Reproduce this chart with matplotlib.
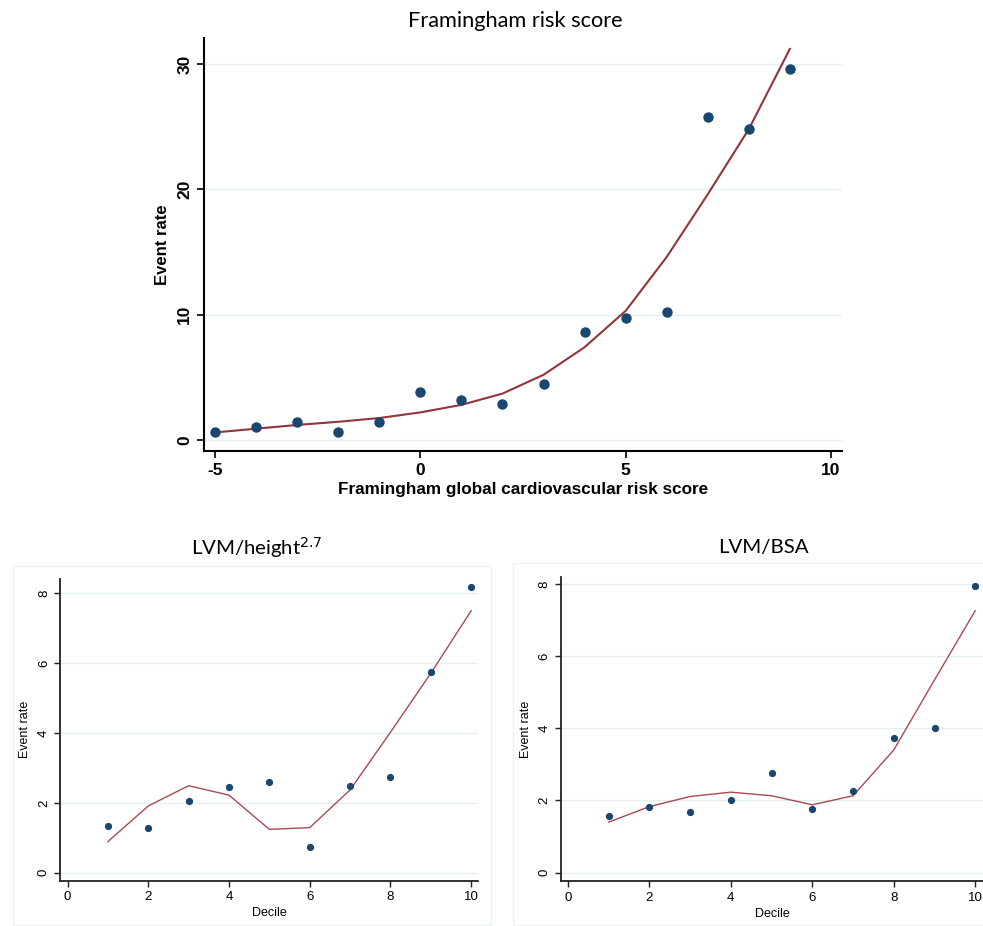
import matplotlib
matplotlib.use("Agg")
import matplotlib.pyplot as plt
from matplotlib.patches import Rectangle

# ---- data ----
fram_x = [-5, -4, -3, -2, -1, 0, 1, 2, 3, 4, 5, 6, 7, 8, 9]
fram_rate = [0.65, 1.0, 1.4, 0.6, 1.4, 3.8, 3.2, 2.9, 4.5, 8.6, 9.7, 10.2, 25.8, 24.8, 29.6]
fram_fit = [0.6, 0.9, 1.2, 1.45, 1.75, 2.2, 2.8, 3.7, 5.2, 7.4, 10.3, 14.6, 19.6, 24.8, 31.2]

decile = [1, 2, 3, 4, 5, 6, 7, 8, 9, 10]
ht_rate = [1.34, 1.29, 2.04, 2.45, 2.60, 0.73, 2.49, 2.75, 5.76, 8.19]
ht_fit = [0.89, 1.91, 2.49, 2.22, 1.24, 1.29, 2.37, 4.02, 5.71, 7.50]
bsa_rate = [1.58, 1.81, 1.69, 2.02, 2.75, 1.76, 2.27, 3.72, 4.00, 7.94]
bsa_fit = [1.40, 1.83, 2.11, 2.23, 2.13, 1.88, 2.13, 3.40, 5.34, 7.26]

top_xticks = [-5, 0, 5, 10]
top_yticks = [0, 10, 20, 30]
bot_xticks = [0, 2, 4, 6, 8, 10]
bot_yticks = [0, 2, 4, 6, 8]

NAVY = "#1a476f"
MAROON = "#90353b"
GRID = "#e4eff1"
W, H = 983, 926

fig = plt.figure(figsize=(W / 100, H / 100), dpi=100)
fig.patch.set_facecolor("white")

def ax_at(x0, y0, x1, y1):
    return fig.add_axes([x0 / W, 1 - y1 / H, (x1 - x0) / W, (y1 - y0) / H])

def style(ax, lw, tlen, color="black"):
    for s in ["top", "right"]:
        ax.spines[s].set_visible(False)
    for s in ["left", "bottom"]:
        ax.spines[s].set_linewidth(lw)
        ax.spines[s].set_color(color)
    ax.tick_params(length=tlen, width=lw * 0.8, color=color)
    ax.grid(axis="y", color=GRID, linewidth=1.0)
    ax.set_axisbelow(True)

# panel boxes for bottom graphs
for (x0, y0, x1, y1) in [(12.5, 566, 491, 925), (513, 563, 990, 925)]:
    fig.patches.append(Rectangle((x0 / W, 1 - y1 / H), (x1 - x0) / W, (y1 - y0) / H,
                                 transform=fig.transFigure, fill=False,
                                 edgecolor="#edf3f4", linewidth=1.0))

# ---- top panel ----
ax = ax_at(204, 38, 842, 451)
style(ax, 1.5, 5)
ax.plot(fram_x, fram_fit, color=MAROON, linewidth=1.5, zorder=2)
ax.plot(fram_x, fram_rate, "o", color=NAVY, markersize=6.5, zorder=3)
ax.set_xlim(-5.27, 10.27)
ax.set_ylim(-0.88, 32.07)
ax.set_xticks(top_xticks)
ax.set_yticks(top_yticks)
tf = dict(family="Liberation Sans", weight="bold", size=12.5)
ax.set_xticklabels([str(t) for t in top_xticks], fontdict=tf)
ax.set_yticklabels([str(t) for t in top_yticks], fontdict=tf, rotation=90, va="center")
ax.set_xlabel("Framingham global cardiovascular risk score", family="Liberation Sans",
              weight="bold", size=12.3, labelpad=3)
ax.set_ylabel("Event rate", family="Liberation Sans", weight="bold", size=12, labelpad=5)
fig.text(515 / W, 1 - 21 / H, "Framingham risk score", family="Lato", size=15.7,
         ha="center", va="center")

# ---- bottom panels ----
def bottom(axb, rate, fit, title, tx):
    style(axb, 1.3, 4, color="#222222")
    axb.plot(decile, fit, color="#a84a52", linewidth=1.0, zorder=2)
    axb.plot(decile, rate, "o", color=NAVY, markersize=4.2, zorder=3)
    axb.set_xticks(bot_xticks)
    axb.set_yticks(bot_yticks)
    bf = dict(family="Liberation Sans", size=9.5)
    axb.set_xticklabels([str(t) for t in bot_xticks], fontdict=bf)
    axb.set_yticklabels([str(t) for t in bot_yticks], fontdict=bf, rotation=90, va="center")
    axb.set_xlabel("Decile", family="Liberation Sans", size=9, labelpad=3)
    axb.set_ylabel("Event rate", family="Liberation Sans", size=9, labelpad=5)
    fig.text(tx / W, 1 - 548 / H, title, family="Lato", size=14.7, ha="center", va="center")

axl = ax_at(60.3, 579, 478, 880.7)
axl.set_xlim(-0.18, 10.17)
axl.set_ylim(-0.23, 8.41)
bottom(axl, ht_rate, ht_fit, r"LVM/height$^{2.7}$", 257)

axr = ax_at(561, 576.7, 983, 881.3)
axr.set_xlim(-0.17, 10.19)
axr.set_ylim(-0.24, 8.2)
bottom(axr, bsa_rate, bsa_fit, "LVM/BSA", 763)

fig.savefig("out.png", dpi=100)
